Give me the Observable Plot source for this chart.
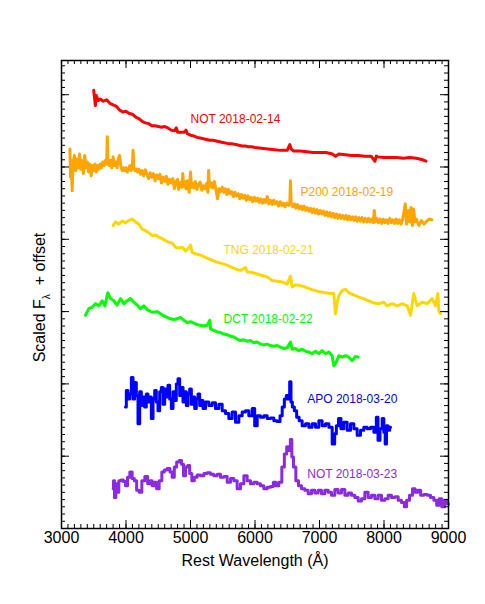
<!DOCTYPE html>
<html><head><meta charset="utf-8">
<script src="https://cdn.jsdelivr.net/npm/d3@7"></script>
<script src="https://cdn.jsdelivr.net/npm/@observablehq/plot@0.6"></script>
<style>body{margin:0;background:#fff} #chart svg{display:block}</style>
</head><body><div id="chart"></div>
<script>
// ---- data: [rest wavelength (Å), scaled flux + offset] ----
const notFeb14 = [[3500,6.06],[3510,5.97],[3525,5.85],[3540,5.99],[3570,5.92],[3600,5.94],[3650,5.91],[3700,5.93],[3750,5.88],[3800,5.86],[3850,5.84],[3900,5.79],[3950,5.76],[4000,5.77],[4050,5.74],[4100,5.73],[4150,5.69],[4200,5.67],[4250,5.63],[4300,5.61],[4350,5.60],[4400,5.57],[4450,5.57],[4500,5.56],[4550,5.55],[4600,5.56],[4650,5.54],[4700,5.51],[4750,5.50],[4780,5.54],[4800,5.48],[4850,5.48],[4900,5.48],[4930,5.51],[4950,5.46],[5000,5.44],[5050,5.43],[5100,5.41],[5150,5.40],[5200,5.39],[5250,5.38],[5300,5.37],[5350,5.37],[5400,5.36],[5450,5.35],[5500,5.34],[5550,5.33],[5600,5.32],[5650,5.32],[5700,5.31],[5750,5.30],[5800,5.29],[5850,5.29],[5900,5.28],[5950,5.28],[6000,5.27],[6100,5.26],[6200,5.25],[6300,5.24],[6400,5.23],[6500,5.23],[6540,5.31],[6560,5.25],[6600,5.22],[6700,5.22],[6800,5.21],[6900,5.20],[7000,5.20],[7100,5.20],[7200,5.18],[7250,5.15],[7300,5.18],[7400,5.17],[7500,5.16],[7600,5.16],[7700,5.15],[7800,5.15],[7860,5.08],[7880,5.15],[7900,5.14],[8000,5.13],[8100,5.13],[8200,5.13],[8300,5.12],[8400,5.13],[8500,5.12],[8550,5.11],[8600,5.10],[8650,5.08]];

const p200Feb19 = [[3130,5.25],[3140,4.86],[3150,5.09],[3165,4.67],[3180,5.07],[3200,5.16],[3220,4.95],[3240,5.11],[3260,4.99],[3280,5.18],[3300,4.97],[3320,5.09],[3340,4.91],[3360,5.16],[3380,4.99],[3400,5.07],[3420,4.93],[3440,5.04],[3460,4.88],[3480,5.02],[3500,4.95],[3520,5.04],[3540,4.93],[3560,5.02],[3580,4.97],[3600,5.04],[3620,4.99],[3640,5.07],[3660,5.02],[3680,5.09],[3700,5.04],[3710,5.42],[3720,5.07],[3740,5.02],[3760,5.09],[3780,4.99],[3800,5.14],[3820,5.02],[3840,5.07],[3860,4.99],[3880,5.11],[3900,5.16],[3920,5.02],[3940,4.95],[3960,4.99],[3980,4.95],[4000,4.99],[4020,4.93],[4040,4.97],[4060,5.02],[4080,4.95],[4100,5.04],[4110,5.23],[4120,4.99],[4140,4.95],[4160,4.97],[4180,4.93],
[4200,4.97],[4225,4.90],[4250,4.95],[4275,4.88],[4300,4.96],[4325,4.90],[4350,4.84],[4375,4.92],[4400,4.86],[4425,4.91],[4450,4.81],[4475,4.89],[4500,4.84],[4525,4.90],[4550,4.78],[4575,4.86],[4600,4.80],[4625,4.87],[4650,4.76],[4675,4.83],[4700,4.78],[4725,4.84],[4750,4.70],[4775,4.80],[4800,4.83],[4815,4.69],[4830,4.74],[4850,4.79],[4865,4.72],[4880,4.91],[4895,4.73],[4910,4.80],[4930,4.70],[4950,4.81],[4965,4.74],[4980,4.65],[5000,4.93],[5015,4.72],[5030,4.78],[5050,4.71],[5075,4.80],[5100,4.69],[5125,4.76],[5150,4.79],[5175,4.68],[5200,4.74],[5225,4.70],[5250,4.77],[5270,4.65],[5280,4.95],[5295,4.72],[5320,4.78],[5345,4.71],[5370,4.80],[5395,4.68],[5420,4.56],[5440,4.70],[5465,4.66],[5490,4.72],[5515,4.65],[5540,4.70],[5565,4.62],[5590,4.69],[5615,4.63],[5640,4.66],[5665,4.59],[5690,4.65],[5715,4.60],[5740,4.63],[5765,4.56],[5790,4.62],[5815,4.57],[5840,4.61],[5865,4.54],[5890,4.60],[5915,4.55],[5940,4.58],[5965,4.52],[5990,4.58],[6015,4.53],[6040,4.57],[6065,4.51],[6090,4.56],[6115,4.50],[6140,4.55],[6165,4.51],[6190,4.59],[6215,4.49],[6240,4.54],[6265,4.48],[6290,4.54],[6315,4.49],[6340,4.52],[6365,4.46],[6390,4.52],[6415,4.47],[6440,4.50],[6465,4.45],[6490,4.50],[6520,4.47],[6540,4.51],[6550,4.81],[6560,4.50],[6585,4.45],[6610,4.49],[6635,4.43],[6660,4.48],[6685,4.42],[6710,4.46],[6735,4.41],[6760,4.46],[6785,4.40],[6810,4.44],[6835,4.39],[6860,4.43],[6885,4.37],[6910,4.42],[6935,4.36],[6960,4.41],[6985,4.35],[7010,4.40],[7035,4.35],[7060,4.39],[7085,4.33],[7110,4.38],[7135,4.32],[7160,4.37],[7185,4.31],[7210,4.36],[7235,4.30],[7260,4.35],[7285,4.29],[7310,4.34],[7335,4.29],[7360,4.33],[7385,4.28],[7410,4.33],[7435,4.27],[7460,4.32],[7485,4.27],[7510,4.31],[7535,4.26],[7560,4.31],[7585,4.25],[7610,4.30],[7635,4.25],[7660,4.30],[7685,4.24],[7710,4.29],[7735,4.24],[7760,4.29],[7785,4.24],[7810,4.28],[7835,4.23],[7850,4.40],[7865,4.24],[7890,4.29],[7915,4.23],[7940,4.28],[7965,4.22],[7990,4.28],[8015,4.23],[8040,4.27],[8065,4.22],[8090,4.29],[8115,4.23],[8140,4.27],[8165,4.22],[8190,4.28],[8215,4.22],[8240,4.27],[8265,4.21],[8290,4.28],
[8330,4.49],[8350,4.21],[8380,4.40],[8400,4.24],[8420,4.44],[8440,4.19],[8460,4.42],[8480,4.24],[8500,4.28],[8540,4.19],[8580,4.26],[8620,4.21],[8660,4.25],[8700,4.28],[8740,4.27]];

const tngFeb21 = [[3800,4.19],[3837,4.24],[3889,4.21],[3941,4.25],[3992,4.23],[4044,4.26],[4096,4.28],[4147,4.24],[4199,4.21],[4251,4.14],[4302,4.12],[4354,4.09],[4406,4.05],[4457,4.06],[4509,4.03],[4561,4.01],[4612,3.98],[4664,3.96],[4716,3.95],[4767,3.89],[4819,3.88],[4871,3.89],[4923,3.84],[4974,3.88],[5000,3.92],[5026,3.82],[5077,3.80],[5155,3.78],[5233,3.75],[5310,3.72],[5387,3.69],[5465,3.67],[5543,3.65],[5620,3.62],[5698,3.59],[5775,3.57],[5853,3.61],[5878,3.55],[5956,3.54],[6033,3.52],[6111,3.50],[6189,3.48],[6266,3.43],[6344,3.42],[6421,3.41],[6499,3.38],[6550,3.49],[6576,3.34],[6628,3.37],[6705,3.36],[6783,3.34],[6860,3.31],[6938,3.29],[7015,3.27],[7093,3.26],[7170,3.25],[7222,3.25],[7248,2.97],[7274,3.13],[7300,3.22],[7351,3.29],[7403,3.31],[7455,3.26],[7532,3.23],[7610,3.20],[7687,3.18],[7765,3.15],[7842,3.12],[7920,3.11],[7997,3.13],[8049,3.08],[8127,3.11],[8204,3.08],[8282,3.11],[8359,3.08],[8411,2.95],[8462,3.25],[8514,3.08],[8592,3.13],[8669,3.11],[8747,3.18],[8798,3.08],[8835,3.25],[8850,3.01],[8876,2.97]];

const dctFeb22 = [[3372,2.95],[3424,3.04],[3475,3.06],[3527,3.11],[3579,3.08],[3630,3.15],[3672,3.08],[3718,3.26],[3760,3.18],[3811,3.15],[3863,3.09],[3915,3.18],[3966,3.11],[4018,3.15],[4070,3.18],[4121,3.13],[4173,3.09],[4225,3.04],[4276,3.08],[4328,3.03],[4380,3.00],[4431,2.99],[4483,3.00],[4535,2.97],[4587,2.94],[4638,2.92],[4690,2.90],[4742,2.89],[4793,2.90],[4845,2.92],[4897,2.88],[4948,2.85],[5000,2.86],[5052,2.84],[5103,2.82],[5155,2.81],[5207,2.80],[5258,2.81],[5300,2.88],[5310,2.76],[5362,2.74],[5413,2.72],[5465,2.71],[5517,2.69],[5569,2.68],[5620,2.66],[5672,2.65],[5723,2.62],[5775,2.60],[5827,2.61],[5878,2.59],[5930,2.60],[5982,2.57],[6033,2.58],[6085,2.55],[6137,2.54],[6188,2.55],[6240,2.53],[6292,2.52],[6344,2.53],[6395,2.51],[6447,2.49],[6499,2.50],[6550,2.58],[6576,2.48],[6628,2.49],[6679,2.46],[6731,2.48],[6783,2.45],[6835,2.44],[6886,2.42],[6938,2.45],[6990,2.42],[7041,2.46],[7093,2.42],[7145,2.44],[7196,2.39],[7222,2.25],[7258,2.30],[7300,2.39],[7351,2.37],[7403,2.39],[7455,2.37],[7507,2.32],[7558,2.38],[7600,2.37]];

const apoMar20 = [[3992,1.68],[4018,1.91],[4044,1.79],[4070,1.86],[4096,2.09],[4121,1.79],[4147,2.02],[4173,1.84],[4199,1.45],[4225,1.89],[4251,1.70],[4277,1.82],[4302,1.68],[4328,1.86],[4354,1.75],[4380,1.82],[4406,1.52],[4432,1.79],[4457,1.91],[4483,1.75],[4509,1.63],[4535,1.89],[4561,1.95],[4587,1.72],[4612,1.93],[4638,1.82],[4664,1.98],[4690,1.79],[4716,1.66],[4742,1.89],[4767,1.77],[4793,2.00],[4819,2.07],[4845,1.84],[4871,1.95],[4897,1.75],[4923,1.89],[4948,1.70],[4974,1.86],[5000,1.93],[5026,1.72],[5052,1.82],[5078,1.66],[5103,1.79],[5129,1.86],[5155,1.70],[5181,1.77],[5207,1.66],[5258,1.75],[5310,1.70],[5362,1.74],[5413,1.66],[5465,1.72],[5517,1.63],[5569,1.59],[5620,1.52],[5672,1.61],[5724,1.47],[5775,1.56],[5827,1.61],[5878,1.63],[5930,1.56],[5982,1.66],[6008,1.42],[6060,1.56],[6111,1.54],[6163,1.56],[6215,1.52],[6266,1.53],[6318,1.49],[6370,1.48],[6406,1.56],[6437,1.68],[6473,1.79],[6499,1.84],[6525,1.79],[6550,2.03],[6566,1.75],[6592,1.68],[6628,1.63],[6664,1.54],[6705,1.49],[6757,1.42],[6809,1.45],[6860,1.40],[6912,1.45],[6964,1.40],[7015,1.49],[7067,1.42],[7119,1.45],[7171,1.40],[7222,1.17],[7248,1.31],[7274,1.42],[7315,1.52],[7351,1.38],[7403,1.47],[7455,1.36],[7507,1.45],[7558,1.38],[7610,1.29],[7662,1.36],[7713,1.40],[7765,1.38],[7817,1.40],[7868,1.33],[7894,1.54],[7920,1.22],[7956,1.38],[7987,1.52],[8008,1.33],[8028,1.17],[8049,1.42],[8075,1.36],[8101,1.40]];

const notMar23 = [[3801,0.55],[3811,0.66],[3832,0.43],[3853,0.62],[3873,0.50],[3904,0.66],[3941,0.67],[3977,0.65],[4008,0.59],[4039,0.71],[4080,0.78],[4111,0.69],[4147,0.66],[4183,0.53],[4225,0.50],[4266,0.66],[4318,0.72],[4354,0.62],[4390,0.66],[4421,0.59],[4457,0.64],[4493,0.55],[4535,0.66],[4576,0.78],[4612,0.81],[4664,0.83],[4700,0.78],[4731,0.71],[4767,0.85],[4804,0.92],[4845,0.94],[4876,0.89],[4907,0.73],[4938,0.85],[4974,0.87],[5000,0.76],[5041,0.66],[5077,0.71],[5129,0.74],[5181,0.73],[5233,0.76],[5284,0.77],[5336,0.75],[5387,0.73],[5439,0.75],[5491,0.71],[5543,0.72],[5594,0.64],[5646,0.69],[5698,0.66],[5749,0.55],[5801,0.62],[5853,0.73],[5904,0.66],[5956,0.62],[6008,0.64],[6060,0.62],[6111,0.59],[6163,0.55],[6214,0.57],[6266,0.58],[6302,0.64],[6344,0.59],[6395,0.64],[6437,0.85],[6473,1.03],[6509,1.13],[6535,1.08],[6561,1.23],[6581,0.99],[6612,0.85],[6654,0.66],[6695,0.59],[6747,0.55],[6798,0.53],[6850,0.48],[6902,0.53],[6953,0.49],[7005,0.53],[7057,0.48],[7108,0.53],[7160,0.50],[7212,0.46],[7263,0.54],[7315,0.49],[7367,0.54],[7419,0.46],[7470,0.49],[7522,0.46],[7574,0.43],[7625,0.38],[7677,0.41],[7729,0.50],[7780,0.43],[7832,0.46],[7884,0.41],[7935,0.46],[7987,0.39],[8039,0.41],[8090,0.46],[8142,0.43],[8194,0.44],[8245,0.39],[8297,0.36],[8333,0.30],[8369,0.39],[8421,0.46],[8462,0.55],[8504,0.50],[8545,0.53],[8592,0.46],[8643,0.47],[8695,0.46],[8747,0.43],[8798,0.39],[8835,0.32],[8876,0.41],[8917,0.30],[8959,0.39],[9000,0.34]];

const seriesNames = ["NOT 2018-02-14","P200 2018-02-19","TNG 2018-02-21","DCT 2018-02-22","APO 2018-03-20","NOT 2018-03-23"];
const seriesColors = ["#ff0000","#ffa500","#ffd700","#00ff00","#0000ff","#8a2be2"];
// label anchor (wavelength, flux) for each series name
const labelWave = [5000, 6705, 5512, 5512, 6810, 6810];
const labelFlux = [5.66, 4.65, 3.85, 2.90, 1.79, 0.75];

const xMajorTicks = [3000,4000,5000,6000,7000,8000,9000];
const xMinorTicks = d3.range(3000, 9001, 100);
const yMajorTicks = [1,2,3,4,5,6];
const yMinorTicks = d3.range(1, 65).map(i => i/10);
const xTitle = "Rest Wavelength (Å)";
const yTitleMain = "Scaled F", yTitleSub = "λ", yTitleTail = "  + offset";

// ---- layout ----
const W = 485, H = 604, mL = 61, mR = 37, mT = 60, mB = 76;
const innerW = W - mL - mR, innerH = H - mT - mB;

const spectra = [notFeb14, p200Feb19, tngFeb21, dctFeb22, apoMar20, notMar23];
const labels = seriesNames.map((n, i) => ({name: n, w: labelWave[i], f: labelFlux[i], color: seriesColors[i]}));

const chart = Plot.plot({
  width: W, height: H,
  marginLeft: mL, marginRight: mR, marginTop: mT, marginBottom: mB,
  style: {fontFamily: "'Liberation Sans', Arial, Helvetica, sans-serif", background: "white", color: "black"},
  x: {domain: [3000, 9000]},
  y: {domain: [0, 6.473], axis: null},
  marks: [
    ...spectra.map((s, i) => Plot.line(s, {x: d => d[0], y: d => d[1], stroke: seriesColors[i], strokeWidth: 3, curve: i >= 4 ? "step" : "linear"})),
    Plot.text(labels, {x: "w", y: "f", text: "name", fill: "color", textAnchor: "start", fontSize: 12}),
    // ticks (inward)
    Plot.tickX(xMajorTicks, {x: d => d, insetTop: innerH - 8, stroke: "black"}),
    Plot.tickX(xMajorTicks, {x: d => d, insetBottom: innerH - 8, stroke: "black"}),
    Plot.tickX(xMinorTicks, {x: d => d, insetTop: innerH - 4, stroke: "black"}),
    Plot.tickX(xMinorTicks, {x: d => d, insetBottom: innerH - 4, stroke: "black"}),
    Plot.tickY(yMajorTicks, {y: d => d, insetRight: innerW - 8, stroke: "black"}),
    Plot.tickY(yMajorTicks, {y: d => d, insetLeft: innerW - 8, stroke: "black"}),
    Plot.tickY(yMinorTicks, {y: d => d, insetRight: innerW - 4, stroke: "black"}),
    Plot.tickY(yMinorTicks, {y: d => d, insetLeft: innerW - 4, stroke: "black"}),
    Plot.frame({stroke: "black", strokeWidth: 1.5}),
    Plot.axisX({ticks: xMajorTicks, tickSize: 0, tickPadding: 3, fontSize: 16, tickFormat: d => String(d), label: null}),
    Plot.text([xTitle], {text: d => d, frameAnchor: "bottom", dy: 37, fontSize: 16, fill: "black"}),
    Plot.text([yTitleMain + yTitleSub + yTitleTail], {text: d => d, frameAnchor: "left", textAnchor: "middle", dx: -22, dy: 3, rotate: -90, fontSize: 16, fill: "black"})
  ]
});
document.getElementById("chart").appendChild(chart);

// subscript λ in the y title
d3.select(chart).selectAll("text")
  .filter(function() { return this.textContent === yTitleMain + yTitleSub + yTitleTail; })
  .each(function() {
    const t = d3.select(this);
    t.text(null);
    t.append("tspan").text(yTitleMain);
    t.append("tspan").attr("font-size", 10).attr("dy", 5).text(yTitleSub);
    t.append("tspan").attr("dy", -5).attr("xml:space", "preserve").style("white-space", "pre").text(yTitleTail);
  });
</script>
</body></html>
